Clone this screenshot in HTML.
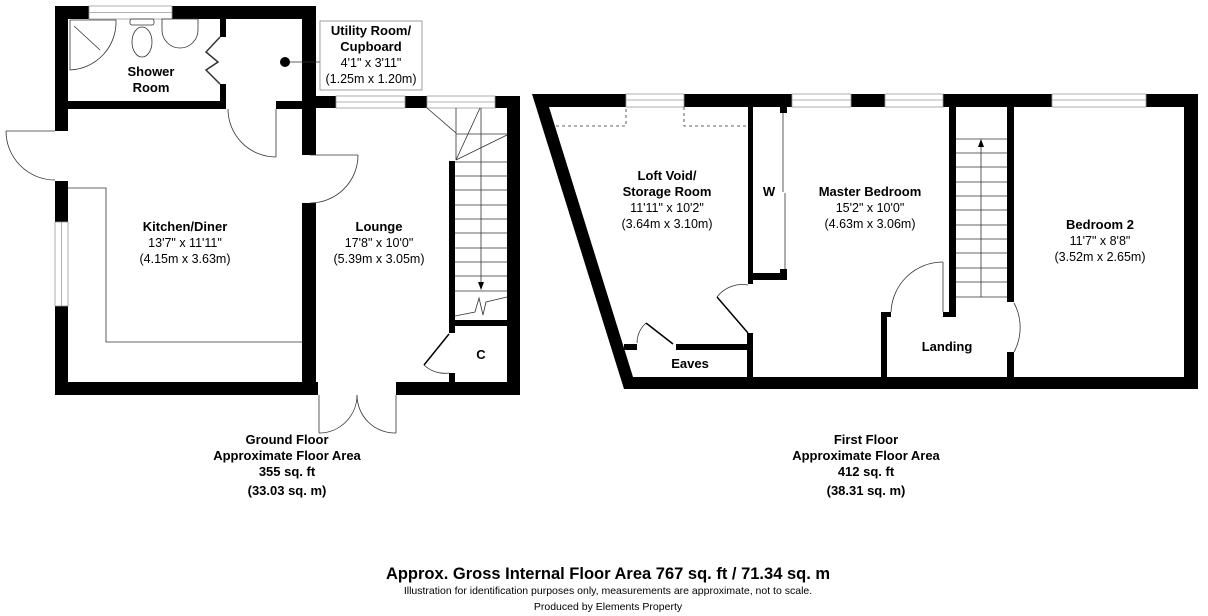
<!DOCTYPE html>
<html><head><meta charset="utf-8"><style>
body{margin:0;background:#fff}
svg{display:block}
text{font-family:"Liberation Sans",Arial,sans-serif;fill:#000;text-anchor:middle}
.b{font-weight:bold;font-size:13px}
.n{font-size:12.5px}
</style></head><body>
<svg width="1208" height="616" viewBox="0 0 1208 616" xmlns="http://www.w3.org/2000/svg">
<g fill="#000">
<!-- Ground floor walls -->
<rect x="55" y="6" width="34" height="13"/>
<rect x="172" y="6" width="144" height="13"/>
<rect x="55" y="6" width="13" height="125"/>
<rect x="55" y="181" width="13" height="41"/>
<rect x="55" y="306" width="13" height="89"/>
<rect x="55" y="382" width="263" height="13"/>
<rect x="396" y="382" width="124" height="13"/>
<rect x="302" y="6" width="14" height="149"/>
<rect x="302" y="203" width="14" height="179"/>
<rect x="55" y="101" width="171" height="8"/>
<rect x="276" y="101" width="40" height="8"/>
<rect x="220" y="19" width="6" height="18"/>
<rect x="220" y="84" width="6" height="17"/>
<rect x="316" y="96" width="20" height="12"/>
<rect x="405" y="96" width="22" height="12"/>
<rect x="495" y="96" width="25" height="12"/>
<rect x="507" y="96" width="13" height="299"/>
<rect x="449" y="161" width="6" height="172"/>
<rect x="449" y="320" width="58" height="6"/>
<rect x="449" y="373" width="6" height="9"/>
<!-- First floor walls -->
<polygon points="532,94 1198,94 1198,389 624,389 "/>
</g>
<g fill="#fff">
<polygon points="549,107 1184,107 1184,377 633,377"/>
</g>
<g fill="#000">
<rect x="748" y="107" width="5" height="177"/>
<rect x="748" y="273" width="39" height="7"/>
<rect x="780" y="269" width="7" height="11"/>
<rect x="780" y="107" width="7" height="6"/>
<rect x="747" y="333" width="6" height="44"/>
<rect x="624" y="344" width="13" height="6"/>
<rect x="676" y="344" width="72" height="6"/>
<rect x="949" y="107" width="7" height="210"/>
<rect x="943" y="312" width="13" height="5"/>
<rect x="881" y="312" width="6" height="65"/>
<rect x="881" y="312" width="10" height="5"/>
<rect x="1007" y="107" width="7" height="195"/>
<rect x="1007" y="352" width="7" height="25"/>
</g>
<g fill="#fff" stroke="#999" stroke-width="0.8">
<!-- windows -->
<rect x="89" y="6" width="83" height="13"/>
<rect x="336" y="96" width="69" height="12"/>
<rect x="427" y="96" width="68" height="12"/>
<rect x="55" y="222" width="13" height="84"/>
<rect x="626" y="94" width="58" height="13"/>
<rect x="792" y="94" width="59" height="13"/>
<rect x="885" y="94" width="58" height="13"/>
<rect x="1052" y="94" width="94" height="13"/>
</g>
<g fill="none" stroke="#999" stroke-width="0.8">
<line x1="89" y1="12.5" x2="172" y2="12.5"/><line x1="336" y1="102" x2="405" y2="102"/>
<line x1="427" y1="102" x2="495" y2="102"/><line x1="61.5" y1="222" x2="61.5" y2="306"/>
<line x1="626" y1="100" x2="684" y2="100"/><line x1="792" y1="100" x2="851" y2="100"/>
<line x1="885" y1="100" x2="943" y2="100"/><line x1="1052" y1="100" x2="1146" y2="100"/>
</g>
<g fill="none" stroke="#333" stroke-width="0.8">
<!-- kitchen worktop -->
<polyline points="68,188 106,188 106,342 302,342"/>
<!-- doors ground -->
<line x1="6" y1="131" x2="55" y2="131"/>
<path d="M6,131 A49,49 0 0 0 55,180"/>
<line x1="310" y1="155" x2="358" y2="155"/>
<path d="M358,155 A48,48 0 0 1 310,203"/>
<line x1="276" y1="109" x2="276" y2="157"/>
<path d="M228,109 A48,48 0 0 0 276,157"/>
<line x1="319" y1="395" x2="319" y2="433"/>
<line x1="396" y1="395" x2="396" y2="433"/>
<path d="M319,433 A38,38 0 0 0 357,395"/>
<path d="M396,433 A38,38 0 0 1 357,395"/>
<path d="M424,365 A30,30 0 0 0 449,373"/>
<!-- shower bifold -->
<polyline points="220,37 206,52 218,62 206,70 220,84" stroke-width="1.5"/>
<!-- stairs ground -->
<line x1="455" y1="162" x2="507" y2="162"/><line x1="455" y1="176" x2="507" y2="176"/>
<line x1="455" y1="190" x2="507" y2="190"/><line x1="455" y1="205" x2="507" y2="205"/>
<line x1="455" y1="219" x2="507" y2="219"/><line x1="455" y1="233" x2="507" y2="233"/>
<line x1="455" y1="248" x2="507" y2="248"/><line x1="455" y1="262" x2="507" y2="262"/>
<line x1="455" y1="276" x2="507" y2="276"/><line x1="455" y1="291" x2="507" y2="291"/>
<line x1="456" y1="108" x2="456" y2="160"/><line x1="456" y1="134" x2="507" y2="134"/>
<line x1="427" y1="108" x2="456" y2="133"/><line x1="480" y1="108" x2="456" y2="160"/>
<line x1="507" y1="135" x2="456" y2="160"/>
<line x1="481" y1="108" x2="481" y2="285"/>
<polyline points="455,316 475,312 479,298 483,315 486,302 507,297"/>
<!-- first floor doors -->
<path d="M717,297 A32,32 0 0 1 748,285"/>
<path d="M637,343 A28,28 0 0 1 646,323"/>
<line x1="906" y1="312" x2="906" y2="312"/>
<path d="M891,312 A52,52 0 0 1 943,262"/>
<line x1="943" y1="262" x2="943" y2="312"/>
<path d="M1014,303 A48,50 0 0 1 1014,352"/>
<!-- loft dashed -->
<g stroke-dasharray="3,3"><polyline points="556,126 626,126 626,107"/><polyline points="684,107 684,126 746,126"/></g>
<!-- wardrobe sliding -->
<line x1="783" y1="113" x2="783" y2="192"/><line x1="785" y1="193" x2="785" y2="269"/>
<!-- stairs first -->
<line x1="956" y1="139" x2="1007" y2="139"/><line x1="956" y1="153" x2="1007" y2="153"/>
<line x1="956" y1="167" x2="1007" y2="167"/><line x1="956" y1="182" x2="1007" y2="182"/>
<line x1="956" y1="196" x2="1007" y2="196"/><line x1="956" y1="210" x2="1007" y2="210"/>
<line x1="956" y1="225" x2="1007" y2="225"/><line x1="956" y1="239" x2="1007" y2="239"/>
<line x1="956" y1="253" x2="1007" y2="253"/><line x1="956" y1="268" x2="1007" y2="268"/>
<line x1="956" y1="282" x2="1007" y2="282"/><line x1="956" y1="297" x2="1007" y2="297"/>
<line x1="981" y1="145" x2="981" y2="297"/>
<!-- fixtures -->
<path d="M70,20 L116,20 A48,48 0 0 1 70,70 Z"/>
<line x1="74" y1="26" x2="100" y2="50"/>
<rect x="130" y="19" width="24" height="6" rx="2"/>
<ellipse cx="142" cy="42" rx="10" ry="15"/>
<path d="M162,19 L198,19 L198,30 A18,18 0 0 1 162,30 Z"/>
<!-- utility leader -->
<line x1="285" y1="62" x2="320" y2="62"/>
</g>
<g stroke="#000" stroke-width="1.5" fill="none">
<line x1="449" y1="334" x2="424" y2="365"/>
<line x1="717" y1="297" x2="748" y2="333"/>
<line x1="646" y1="323" x2="673" y2="344"/>
</g>
<polygon points="481,290 478,282 484,282" fill="#000"/>
<polygon points="981,139 978,147 984,147" fill="#000"/>
<circle cx="285" cy="62" r="5" fill="#000"/>
<rect x="320" y="21" width="102" height="69" fill="#fff" stroke="#888" stroke-width="0.8"/>
<!-- labels -->
<text class="b" x="371" y="35">Utility Room/</text>
<text class="b" x="371" y="51">Cupboard</text>
<text class="n" x="371" y="67">4'1" x 3'11"</text>
<text class="n" x="371" y="83">(1.25m x 1.20m)</text>
<text class="b" x="151" y="76">Shower</text>
<text class="b" x="151" y="92">Room</text>
<text class="b" x="185" y="231">Kitchen/Diner</text>
<text class="n" x="185" y="247">13'7" x 11'11"</text>
<text class="n" x="185" y="263">(4.15m x 3.63m)</text>
<text class="b" x="379" y="231">Lounge</text>
<text class="n" x="379" y="247">17'8" x 10'0"</text>
<text class="n" x="379" y="263">(5.39m x 3.05m)</text>
<text class="b" x="481" y="359">C</text>
<text class="b" x="667" y="180">Loft Void/</text>
<text class="b" x="667" y="196">Storage Room</text>
<text class="n" x="667" y="212">11'11" x 10'2"</text>
<text class="n" x="667" y="228">(3.64m x 3.10m)</text>
<text class="b" x="769" y="196">W</text>
<text class="b" x="870" y="196">Master Bedroom</text>
<text class="n" x="870" y="212">15'2" x 10'0"</text>
<text class="n" x="870" y="228">(4.63m x 3.06m)</text>
<text class="b" x="1100" y="229">Bedroom 2</text>
<text class="n" x="1100" y="245">11'7" x 8'8"</text>
<text class="n" x="1100" y="261">(3.52m x 2.65m)</text>
<text class="b" x="690" y="368">Eaves</text>
<text class="b" x="947" y="351">Landing</text>
<text class="b" x="287" y="444">Ground Floor</text>
<text class="b" x="287" y="460">Approximate Floor Area</text>
<text class="b" x="287" y="476">355 sq. ft</text>
<text class="b" x="287" y="495">(33.03 sq. m)</text>
<text class="b" x="866" y="444">First Floor</text>
<text class="b" x="866" y="460">Approximate Floor Area</text>
<text class="b" x="866" y="476">412 sq. ft</text>
<text class="b" x="866" y="495">(38.31 sq. m)</text>
<text x="608" y="579" style="font-weight:bold;font-size:16.5px">Approx. Gross Internal Floor Area 767 sq. ft / 71.34 sq. m</text>
<text x="608" y="594" style="font-size:10.5px">Illustration for identification purposes only, measurements are approximate, not to scale.</text>
<text x="608" y="610" style="font-size:10.5px">Produced by Elements Property</text>
</svg>
</body></html>
